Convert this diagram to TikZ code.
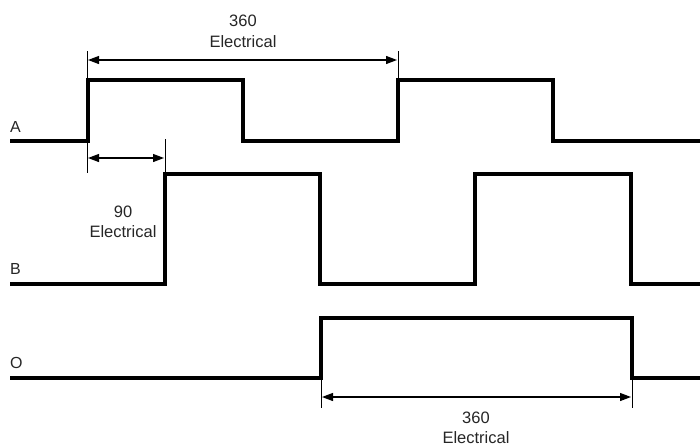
\documentclass[tikz,border=0pt]{standalone}
\usepackage{fontspec}
\setmainfont{Liberation Sans}
\usetikzlibrary{arrows.meta}
\begin{document}
\begin{tikzpicture}[x=1pt,y=-1pt,
  sig/.style={line width=4pt,line join=miter},
  tick/.style={line width=1pt},
  dim/.style={line width=1.2pt,{Triangle[length=11pt,width=8pt]}-{Triangle[length=11pt,width=8pt]}},
  lbl/.style={font=\fontsize{16.5}{19}\selectfont,text=black!85,inner sep=0pt},
  sname/.style={font=\fontsize{16}{19}\selectfont,text=black!85,inner sep=0pt,anchor=west}]
\useasboundingbox (0,0) rectangle (700,447);
% signal A
\draw[sig] (10,141) -- (88,141) -- (88,80) -- (243,80) -- (243,141) -- (398,141) -- (398,80) -- (553,80) -- (553,141) -- (700,141);
% signal B
\draw[sig] (10,284) -- (165,284) -- (165,174) -- (320,174) -- (320,284) -- (475,284) -- (475,174) -- (631,174) -- (631,284) -- (700,284);
% signal O
\draw[sig] (10,378) -- (321,378) -- (321,318) -- (632,318) -- (632,378) -- (700,378);
% labels
\node[sname] (la) at (10,127) {A};
\node[sname] (lb) at (10,269) {B};
\node[sname] (lo) at (10,363) {O};
% tick lines
\coordinate (t1a) at (87,51); \coordinate (t1b) at (87,173);
\coordinate (t2a) at (398,51); \coordinate (t2b) at (398,80);
\coordinate (t3a) at (165,139); \coordinate (t3b) at (165,174);
\coordinate (t4a) at (321,378); \coordinate (t4b) at (321,408);
\coordinate (t5a) at (632,378); \coordinate (t5b) at (632,408);
\draw[tick] (t1a) -- (t1b);
\draw[tick] (t2a) -- (t2b);
\draw[tick] (t3a) -- (t3b);
\draw[tick] (t4a) -- (t4b);
\draw[tick] (t5a) -- (t5b);
% dimension arrows
\coordinate (d1a) at (88,60); \coordinate (d1b) at (397,60);
\coordinate (d2a) at (88,158); \coordinate (d2b) at (164,158);
\coordinate (d3a) at (322,397); \coordinate (d3b) at (631,397);
\draw[dim] (d1a) -- (d1b);
\draw[dim] (d2a) -- (d2b);
\draw[dim] (d3a) -- (d3b);
% dimension text
\node[lbl] (n1) at (243,21) {360};
\node[lbl] (e1) at (243,42) {Electrical};
\node[lbl] (n2) at (123,212) {90};
\node[lbl] (e2) at (123,232) {Electrical};
\node[lbl] (n3) at (476,418) {360};
\node[lbl] (e3) at (476,438) {Electrical};
\end{tikzpicture}
\end{document}
